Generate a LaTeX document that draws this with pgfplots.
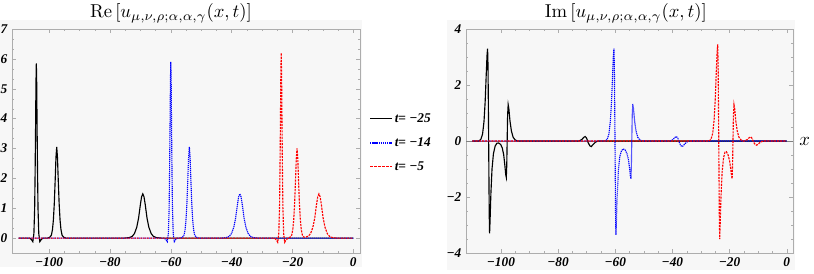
\documentclass[border=0pt]{standalone}
\usepackage[no-math]{fontspec}
\setmainfont{Liberation Serif}
\usepackage{graphicx}
\usepackage{pgfplots}
\pgfplotsset{compat=1.18}
\definecolor{bgc}{gray}{0.968}
\definecolor{frc}{gray}{0.68}
\pgfplotsset{
  mystyle/.style={
    scale only axis,
    axis line style={frc},
    tick style={frc},
    major tick length=3pt,
    minor tick length=1.6pt,
    tick label style={font=\fontsize{10}{12}\selectfont\bfseries\itshape, text=black},
    xmin=-112.2, xmax=2.2,
    xtick={-100,-80,-60,-40,-20,0},
    xticklabels={−100,−80,−60,−40,−20,0},
    minor x tick num=3,
    every axis title shift=0pt,
    title style={anchor=base, yshift=8.5pt},
    every axis plot/.append style={line width=0.85pt, mark=none},
  },
}
\begin{document}
\begin{tikzpicture}
\path[use as bounding box] (0,0) rectangle (610.5pt,-204.75pt);
\fill[bgc] (0,-15pt) rectangle (271.5pt,-200.25pt);
\fill[bgc] (335.25pt,-15pt) rectangle (596.25pt,-202.5pt);
% ---------------- Re ----------------
\begin{axis}[mystyle,
  at={(9pt,-21.75pt)}, anchor=north west,
  width=261pt, height=168pt,
  ymin=-0.5, ymax=7,
  ytick={0,1,2,3,4,5,6,7},
  yticklabels={0,1,2,3,4,5,6,7},
  minor y tick num=2,
  title={\scalebox{1.4}{$\mathrm{Re}\left[u_{\mu,\nu,\rho;\alpha,\alpha,\gamma}(x,t)\right]$}},
  title style={at={(axis description cs:0.457,1)}},
  legend style={draw=none, fill=none, at={(axis description cs:1.026,0.491)}, anchor=west,
    font=\fontsize{10}{12}\selectfont\bfseries\itshape, row sep=7pt, inner sep=0pt,
    nodes={inner sep=1.5pt}},
  legend cell align=left,
]
\addplot[black, line width=0.85pt,
  legend image code/.code={\draw[black, line width=0.85pt] (0pt,0pt) -- (16.5pt,0pt);}] coordinates {
(-110,0) (-106.4,0) (-105.8,-0.05) (-105.35,-0.12) (-105.0,0.15) (-104.75,1.0) (-104.6,2.2)
(-104.45,3.7) (-104.32,5.2) (-104.2,5.85) (-104.08,5.2) (-103.95,3.7) (-103.8,2.2) (-103.65,1.0)
(-103.4,0.15) (-103.05,-0.12) (-102.6,-0.05) (-102.0,0)
(-100.5,0) (-99.75,0.03) (-99.25,0.1) (-98.9,0.28) (-98.6,0.6) (-98.3,1.15) (-98.0,1.95)
(-97.75,2.7) (-97.5,3.05) (-97.25,2.7) (-97.0,1.95) (-96.7,1.15) (-96.4,0.6) (-96.1,0.28)
(-95.75,0.1) (-95.25,0.03) (-94.5,0)
(-75.2,0) (-73.7,0.015) (-72.7,0.055) (-71.95,0.15) (-71.2,0.36) (-70.6,0.66) (-70.0,1.12)
(-69.6,1.38) (-69.2,1.48) (-68.8,1.38) (-68.4,1.12) (-67.8,0.66) (-67.2,0.36) (-66.45,0.15)
(-65.7,0.055) (-64.7,0.015) (-63.2,0) (0,0)
};
\addlegendentry{t= −25}
\addplot[blue, line width=0.85pt, dash pattern=on 0.9pt off 0.6pt,
  legend image code/.code={\pgfsetcolor{blue}\draw[blue, line width=0.95pt, dash pattern=on 1pt off 0.6pt] (0pt,0pt) -- (16.5pt,0pt);}] coordinates {
(-110,0) (-62.2,0) (-61.6,-0.05) (-61.15,-0.12) (-60.8,0.15) (-60.55,1.0) (-60.4,2.2)
(-60.25,3.75) (-60.12,5.25) (-60.0,5.9) (-59.88,5.25) (-59.75,3.75) (-59.6,2.2) (-59.45,1.0)
(-59.2,0.15) (-58.85,-0.12) (-58.4,-0.05) (-57.8,0)
(-56.9,0) (-56.15,0.03) (-55.65,0.1) (-55.3,0.28) (-55.0,0.6) (-54.7,1.15) (-54.4,1.95)
(-54.15,2.7) (-53.9,3.05) (-53.65,2.7) (-53.4,1.95) (-53.1,1.15) (-52.8,0.6) (-52.5,0.28)
(-52.15,0.1) (-51.65,0.03) (-50.9,0)
(-43.3,0) (-41.8,0.015) (-40.8,0.055) (-40.05,0.15) (-39.3,0.36) (-38.7,0.66) (-38.1,1.12)
(-37.7,1.38) (-37.3,1.48) (-36.9,1.38) (-36.5,1.12) (-35.9,0.66) (-35.3,0.36) (-34.55,0.15)
(-33.8,0.055) (-32.8,0.015) (-31.3,0) (0,0)
};
\addlegendentry{t= −14}
\addplot[red, line width=0.85pt, dash pattern=on 1.6pt off 0.8pt,
  legend image code/.code={\pgfsetcolor{red}\draw[red, line width=1.1pt, dash pattern=on 2pt off 1pt] (0pt,0.4pt) -- (16.5pt,0.4pt);}] coordinates {
(-110,0) (-25.9,0) (-25.3,-0.06) (-24.85,-0.14) (-24.5,0.15) (-24.25,1.05) (-24.1,2.3)
(-23.95,3.95) (-23.82,5.5) (-23.7,6.2) (-23.58,5.5) (-23.45,3.95) (-23.3,2.3) (-23.15,1.05)
(-22.9,0.15) (-22.55,-0.14) (-22.1,-0.06) (-21.5,0)
(-20.75,0.03) (-20.25,0.1) (-19.9,0.28) (-19.6,0.6) (-19.3,1.13) (-19.0,1.92) (-18.75,2.65)
(-18.5,3.0) (-18.25,2.65) (-18.0,1.92) (-17.7,1.13) (-17.4,0.6) (-17.1,0.28) (-16.75,0.1)
(-16.25,0.03) (-15.8,0.03) (-14.8,0.06) (-14.05,0.15) (-13.3,0.36) (-12.7,0.66) (-12.1,1.12)
(-11.7,1.38) (-11.3,1.48) (-10.9,1.38) (-10.5,1.12) (-9.9,0.66) (-9.3,0.36) (-8.55,0.15)
(-7.8,0.055) (-6.8,0.015) (-5.3,0) (0,0)
};
\addlegendentry{t= −5}
\end{axis}
% ---------------- Im ----------------
\begin{axis}[mystyle,
  at={(349.5pt,-21.75pt)}, anchor=north west,
  width=245.25pt, height=168pt,
  ymin=-4, ymax=4,
  ytick={-4,-2,0,2,4},
  yticklabels={−4,−2,0,2,4},
  minor y tick num=3,
  extra y ticks={0},
  extra y tick labels={},
  extra y tick style={grid=major, major grid style={black!50, line width=0.5pt}, major tick length=0pt},
  title={\scalebox{1.4}{$\mathrm{Im}\left[u_{\mu,\nu,\rho;\alpha,\alpha,\gamma}(x,t)\right]$}},
  title style={at={(axis description cs:0.489,1)}},
  xlabel={\scalebox{1.4}{$x$}},
  xlabel style={at={(axis description cs:1,0.5)}, anchor=west, inner sep=0pt, xshift=4.5pt},
]
\addplot[black, line width=0.85pt] coordinates {
(-110,0) (-107.7,0) (-107.0,0.06) (-106.4,0.25) (-105.9,0.7) (-105.5,1.4) (-105.15,2.3)
(-104.85,3.05) (-104.65,3.3) (-104.5,2.7) (-104.35,1.0) (-104.2,-1.0) (-104.08,-2.6)
(-103.95,-3.3) (-103.8,-2.9) (-103.5,-1.9) (-103.1,-1.0) (-102.6,-0.45) (-102.0,-0.18)
(-101.4,-0.08) (-100.8,-0.07) (-100.1,-0.12) (-99.5,-0.25) (-99.0,-0.5) (-98.6,-0.88)
(-98.3,-1.2) (-98.1,-1.3) (-97.95,-0.9) (-97.8,0) (-97.65,0.9) (-97.45,1.3) (-97.2,1.15)
(-96.8,0.7) (-96.3,0.35) (-95.7,0.13) (-95.0,0.04) (-94.2,0)
(-72.7,0) (-71.7,0.05) (-71.0,0.13) (-70.5,0.16) (-70.0,0.1) (-69.5,-0.05) (-68.9,-0.17)
(-68.4,-0.2) (-67.7,-0.12) (-66.9,-0.04) (-66.0,0) (0,0)
};
\addplot[blue, line width=0.85pt, dash pattern=on 0.9pt off 0.6pt] coordinates {
(-110,0) (-63.5,0) (-62.8,0.06) (-62.2,0.25) (-61.7,0.7) (-61.3,1.4) (-60.95,2.3)
(-60.65,3.05) (-60.45,3.3) (-60.3,2.7) (-60.15,1.0) (-60.0,-1.0) (-59.88,-2.6)
(-59.75,-3.35) (-59.6,-2.95) (-59.3,-1.95) (-58.9,-1.05) (-58.4,-0.55) (-57.8,-0.35)
(-57.2,-0.28) (-56.5,-0.32) (-55.9,-0.45) (-55.4,-0.65) (-55.0,-0.95) (-54.7,-1.25)
(-54.5,-1.35) (-54.35,-0.9) (-54.2,0) (-54.05,0.9) (-53.85,1.32) (-53.6,1.15) (-53.2,0.7)
(-52.7,0.35) (-52.1,0.13) (-51.4,0.04) (-50.6,0)
(-40.8,0) (-39.8,0.05) (-39.1,0.13) (-38.6,0.16) (-38.1,0.1) (-37.6,-0.05) (-37.0,-0.17)
(-36.5,-0.2) (-35.8,-0.12) (-35.0,-0.04) (-34.1,0) (0,0)
};
\addplot[red, line width=0.85pt, dash pattern=on 1.6pt off 0.8pt] coordinates {
(-110,0) (-27.2,0) (-26.5,0.06) (-25.9,0.27) (-25.4,0.75) (-25.0,1.5) (-24.65,2.45)
(-24.35,3.2) (-24.15,3.45) (-24.0,2.8) (-23.85,1.0) (-23.7,-1.0) (-23.58,-2.7)
(-23.45,-3.5) (-23.3,-3.05) (-23.0,-2.0) (-22.6,-1.1) (-22.1,-0.6) (-21.6,-0.4)
(-21.1,-0.38) (-20.5,-0.5) (-20.0,-0.7) (-19.6,-0.98) (-19.3,-1.25) (-19.1,-1.35)
(-18.95,-0.9) (-18.8,0) (-18.65,0.9) (-18.45,1.3) (-18.2,1.15) (-17.8,0.7) (-17.3,0.35)
(-16.7,0.13) (-16.0,0.04) (-15.2,0)
(-14.8,0) (-13.8,0.05) (-13.1,0.12) (-12.6,0.15) (-12.1,0.09) (-11.6,-0.04) (-11.0,-0.13)
(-10.5,-0.15) (-9.8,-0.09) (-9.0,-0.03) (-8.1,0) (0,0)
};
\end{axis}
\end{tikzpicture}
\end{document}
